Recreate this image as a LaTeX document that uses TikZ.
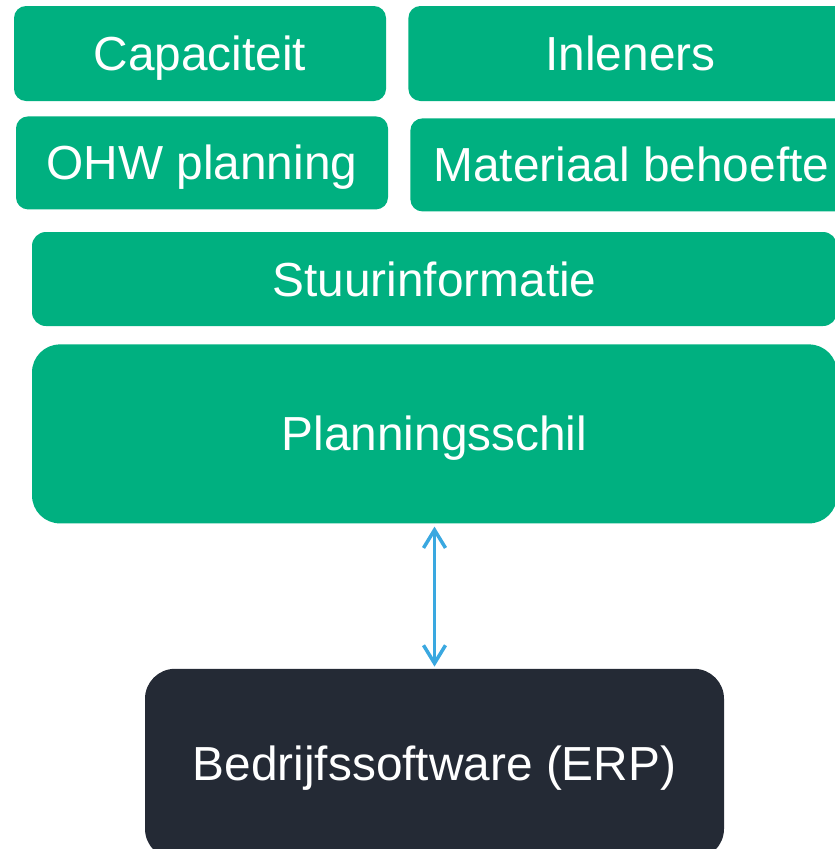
\documentclass[tikz,border=0pt]{standalone}
\usepackage{fontspec}
\setmainfont{Liberation Sans}
\usetikzlibrary{positioning,arrows.meta}

\definecolor{groen}{RGB}{0,176,128}
\definecolor{donker}{RGB}{36,42,53}
\definecolor{blauw}{RGB}{58,168,224}

\tikzset{
  blok/.style={fill=groen, text=white, rounded corners=12pt, inner sep=0pt,
    text height=34pt, text depth=0pt, font=\fontsize{47.8}{56}\selectfont},
  pijl/.style={<->, >={Straight Barb[length=18pt,width=22pt]}, draw=blauw,
    line width=3.5pt, shorten <=3pt, shorten >=2pt}
}

\begin{document}
\begin{tikzpicture}[x=1pt,y=1pt]
	 \path[use as bounding box, clip] (0,0) rectangle (835,-849);

	 \node (C) [blok, minimum width=372pt, minimum height=95pt] at (200,-53.5) {Capaciteit};
	 \node (I) [blok, minimum width=444pt, minimum height=95pt, right=22pt of C] {Inleners};
	 \node (O) [blok, minimum width=372pt, minimum height=93pt, below=15pt of C, xshift=2pt] {OHW planning};
	 \node (M) [blok, minimum width=442pt, minimum height=93pt, right=22pt of O, yshift=-2pt] {Materiaal behoefte};

	 \node (S) [blok, rounded corners=14pt, minimum width=805pt, minimum height=94pt] at (434.5,-279) {Stuurinformatie};
	 \node (P) [blok, rounded corners=28pt, minimum width=805pt, minimum height=179pt, below=18pt of S] {Planningsschil};
	 \node (E) [blok, fill=donker, rounded corners=30pt, minimum width=579pt, minimum height=190pt, below=145pt of P] {Bedrijfssoftware (ERP)};

	 \draw[pijl] (P) -- (E);
	\end{tikzpicture}
\end{document}
